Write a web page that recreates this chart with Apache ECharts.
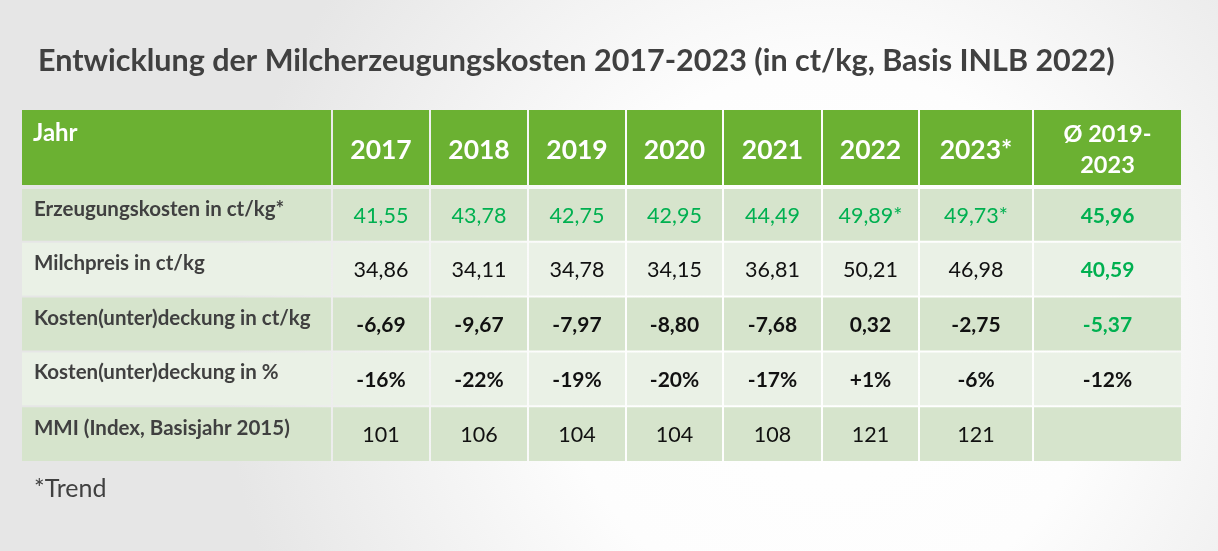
<!DOCTYPE html>
<html>
<head>
<meta charset="utf-8">
<script src="https://cdn.jsdelivr.net/npm/echarts@6/dist/echarts.min.js"></script>
<style>
html, body { margin: 0; padding: 0; }
#main { width: 1218px; height: 551px; }
</style>
</head>
<body>
<div id="main"></div>
<script>
// Daten
var titleText = 'Entwicklung der Milcherzeugungskosten 2017-2023 (in ct/kg, Basis INLB 2022)';
var cornerLabel = 'Jahr';
var years = ['2017', '2018', '2019', '2020', '2021', '2022', '2023*'];
var avgLabel = 'Ø 2019-\n2023';
var rowLabels = [
    'Erzeugungskosten in ct/kg*',
    'Milchpreis in ct/kg',
    'Kosten(unter)deckung in ct/kg',
    'Kosten(unter)deckung in %',
    'MMI (Index, Basisjahr 2015)'
];
var erzeugungskosten = [41.55, 43.78, 42.75, 42.95, 44.49, 49.89, 49.73];
var erzeugungskostenTrend = [false, false, false, false, false, true, true];
var erzeugungskostenAvg = 45.96;
var milchpreis = [34.86, 34.11, 34.78, 34.15, 36.81, 50.21, 46.98];
var milchpreisAvg = 40.59;
var deckungCt = [-6.69, -9.67, -7.97, -8.80, -7.68, 0.32, -2.75];
var deckungCtAvg = -5.37;
var deckungPct = [-16, -22, -19, -20, -17, 1, -6];
var deckungPctAvg = -12;
var mmi = [101, 106, 104, 104, 108, 121, 121];
var mmiAvg = null;
var footnote = '*Trend';

// Layout (Spaltenbreiten / Zeilenhoehen)
var colWidths = [310, 98, 98, 98, 97, 99, 97, 114, 148];
var headerHeight = 77;
var rowHeight = 54.8;
var FONT = 'Lato';

var colEdges = [0];
colWidths.forEach(function (w, i) { colEdges.push(colEdges[i] + w); });
var rowEdges = [0, headerHeight];
rowLabels.forEach(function (l, i) { rowEdges.push(rowEdges[i + 1] + rowHeight); });
var totalW = colEdges[colEdges.length - 1];
var totalH = rowEdges[rowEdges.length - 1];

function de(v) {
    return v.toFixed(2).replace('.', ',');
}
function pct(v) {
    return (v > 0 ? '+' : '') + v + '%';
}

// Zellen aufbauen: [spalte, zeile, text, stil]
var cells = [];
cells.push([0, 0, cornerLabel, 'corner']);
years.forEach(function (y, i) { cells.push([i + 1, 0, y, 'year']); });
cells.push([8, 0, avgLabel, 'avgHead']);
rowLabels.forEach(function (l, r) { cells.push([0, r + 1, l, 'label']); });
erzeugungskosten.forEach(function (v, i) {
    cells.push([i + 1, 1, de(v) + (erzeugungskostenTrend[i] ? '*' : ''), 'green']);
});
cells.push([8, 1, de(erzeugungskostenAvg), 'greenBold']);
milchpreis.forEach(function (v, i) { cells.push([i + 1, 2, de(v), 'plain']); });
cells.push([8, 2, de(milchpreisAvg), 'greenBold']);
deckungCt.forEach(function (v, i) { cells.push([i + 1, 3, de(v), 'bold']); });
cells.push([8, 3, de(deckungCtAvg), 'greenBold']);
deckungPct.forEach(function (v, i) { cells.push([i + 1, 4, pct(v), 'bold']); });
cells.push([8, 4, pct(deckungPctAvg), 'bold']);
mmi.forEach(function (v, i) { cells.push([i + 1, 5, String(v), 'plain']); });
cells.push([8, 5, mmiAvg == null ? '' : String(mmiAvg), 'plain']);

var textStyles = {
    corner: { fill: '#ffffff', fontWeight: 'bold', fontSize: 24 },
    year: { fill: '#ffffff', fontWeight: 'bold', fontSize: 26.5 },
    avgHead: { fill: '#ffffff', fontWeight: 'bold', fontSize: 23.5, lineHeight: 31 },
    label: { fill: '#404040', fontWeight: 'bold', fontSize: 20.5 },
    green: { fill: '#00b050', fontWeight: 'normal', fontSize: 21.5 },
    greenBold: { fill: '#00b050', fontWeight: 'bold', fontSize: 21 },
    plain: { fill: '#111111', fontWeight: 'normal', fontSize: 21.5 },
    bold: { fill: '#111111', fontWeight: 'bold', fontSize: 21 }
};

function renderItem(params, api) {
    var cell = cells[params.dataIndex];
    var c = cell[0], r = cell[1];
    var p0 = api.coord([colEdges[c], rowEdges[r]]);
    var p1 = api.coord([colEdges[c + 1], rowEdges[r + 1]]);
    // weisse Trennlinien
    var l = p0[0] + (c > 0 ? 1 : 0);
    var rr = p1[0] - (c < colWidths.length - 1 ? 1 : 0);
    var t = p0[1] + (r === 1 ? 2 : (r > 0 ? 1 : 0));
    var b = p1[1] - (r === 0 ? 2 : (r < rowLabels.length ? 1 : 0));
    var fill = r === 0 ? '#6bb132' : (r % 2 === 1 ? '#d6e4cc' : '#eaf1e6');
    var st = textStyles[cell[3]];
    var tx, ty, align = 'center';
    var cy = (t + b) / 2;
    if (cell[3] === 'corner') {
        tx = l + 11; ty = t + 23; align = 'left';
    } else if (cell[3] === 'label') {
        tx = l + 12; ty = cy - 6; align = 'left';
    } else if (cell[3] === 'year') {
        tx = (l + rr) / 2; ty = cy + 3;
    } else if (cell[3] === 'avgHead') {
        tx = (l + rr) / 2; ty = cy + 2;
    } else {
        tx = (l + rr) / 2; ty = cy + 1;
    }
    return {
        type: 'group',
        children: [{
            type: 'rect',
            shape: { x: l, y: t, width: rr - l, height: b - t },
            style: { fill: fill }
        }, {
            type: 'text',
            x: tx,
            y: ty,
            style: {
                text: cell[2],
                fill: st.fill,
                fontFamily: FONT,
                fontWeight: st.fontWeight,
                fontSize: st.fontSize,
                lineHeight: st.lineHeight,
                align: align,
                verticalAlign: 'middle'
            }
        }]
    };
}

var chart = echarts.init(document.getElementById('main'));
var option = {
    backgroundColor: {
        type: 'radial', x: 0.68, y: 0.62, r: 1.1,
        colorStops: [
            { offset: 0, color: '#ffffff' },
            { offset: 0.45, color: '#fdfdfd' },
            { offset: 1, color: '#e6e6e6' }
        ]
    },
    title: {
        text: titleText,
        left: 33,
        top: 41,
        textStyle: { fontFamily: FONT, fontWeight: 'bold', fontSize: 30.5, color: '#404040' }
    },
    grid: { left: 22, top: 110, width: totalW, height: totalH },
    xAxis: { type: 'value', min: 0, max: totalW, show: false },
    yAxis: { type: 'value', min: 0, max: totalH, inverse: true, show: false },
    graphic: [{
        type: 'text',
        left: 34,
        top: 476,
        style: { text: footnote, fontFamily: FONT, fontSize: 25, fill: '#404040' }
    }],
    series: [{
        type: 'custom',
        renderItem: renderItem,
        data: cells.map(function (c) { return [c[0], c[1]]; }),
        animation: false
    }]
};
chart.setOption(option);
</script>
</body>
</html>
